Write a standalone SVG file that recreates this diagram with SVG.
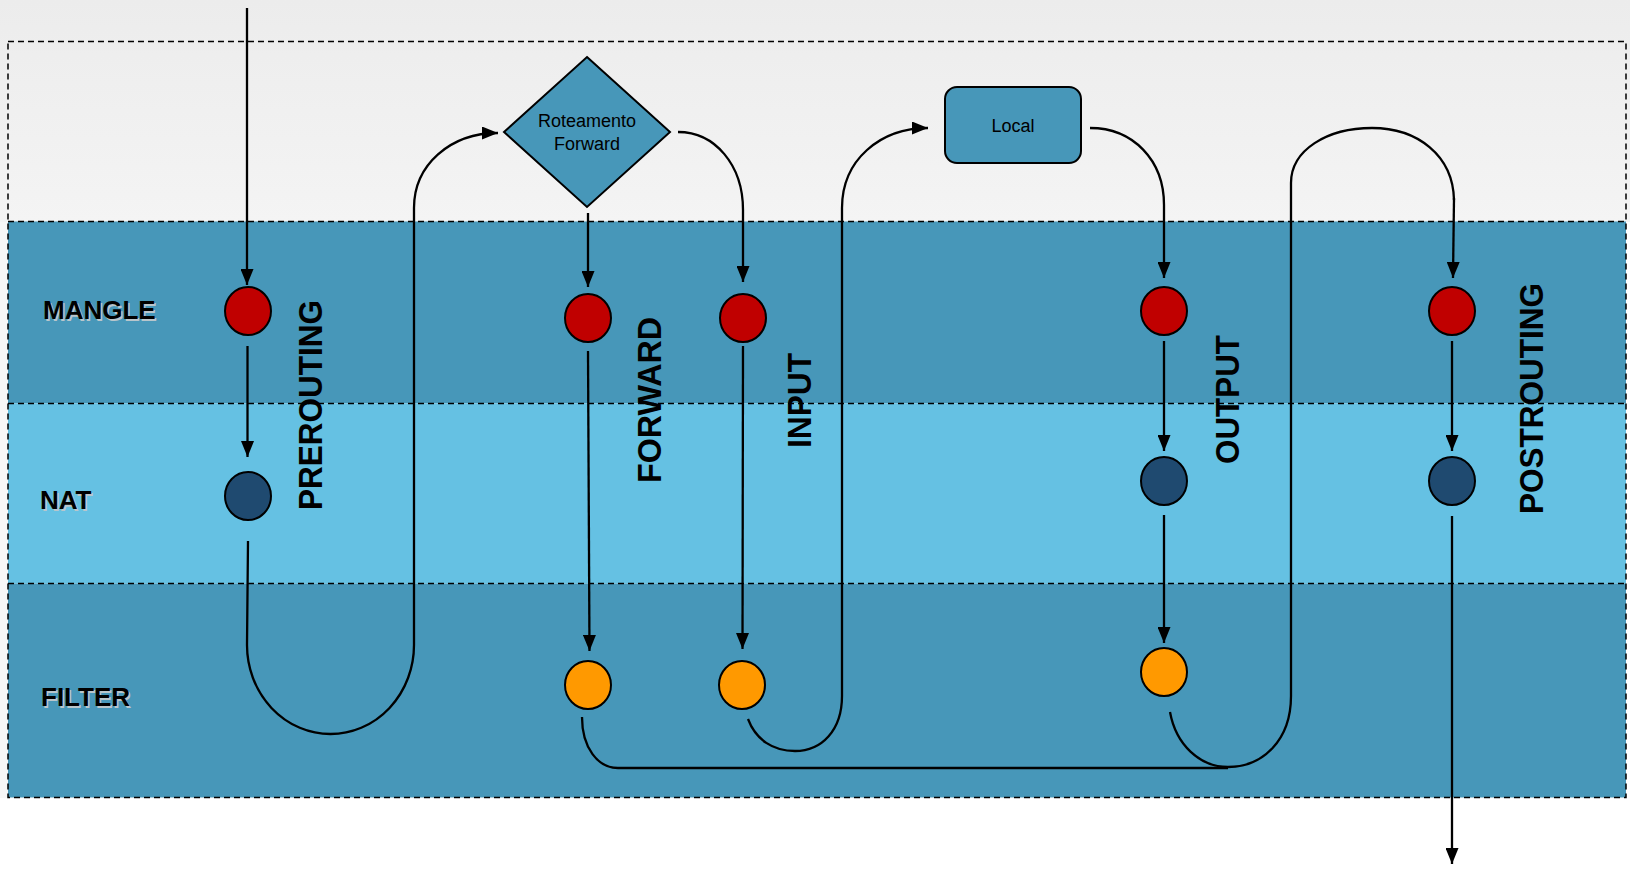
<svg xmlns="http://www.w3.org/2000/svg" width="1630" height="874" viewBox="0 0 1630 874">
<defs>
<linearGradient id="topg" x1="0" y1="0" x2="0" y2="1">
<stop offset="0" stop-color="#ececec"/>
<stop offset="1" stop-color="#f4f4f4"/>
</linearGradient>
<marker id="arr" markerUnits="userSpaceOnUse" markerWidth="17" markerHeight="13" refX="16" refY="6.5" orient="auto">
<path d="M0,0 L16,6.5 L0,13 z" fill="#000"/>
</marker>
<style>
.band-dark{fill:#4797b9}
.band-light{fill:#65c1e3}
.dash{fill:none;stroke:#000;stroke-width:1.5;stroke-dasharray:6 4}
.con{fill:none;stroke:#000;stroke-width:2.3}
.arrow{marker-end:url(#arr)}
.mangle{fill:#c00000;stroke:#000;stroke-width:2}
.nat{fill:#1f4a70;stroke:#000;stroke-width:2}
.filter{fill:#ff9900;stroke:#000;stroke-width:2}
.shape{fill:#4797b9;stroke:#000;stroke-width:2}
.lbl{font-family:"Liberation Sans",Arial,sans-serif;font-weight:bold;font-size:26px;fill:#000}
.lblsh{font-family:"Liberation Sans",Arial,sans-serif;font-weight:bold;font-size:26px;fill:#b9c6cc}
.chain{font-family:"Liberation Sans",Arial,sans-serif;font-weight:bold;font-size:34px;fill:#000}
.ntext{font-family:"Liberation Sans",Arial,sans-serif;font-size:18px;fill:#000;text-anchor:middle}
</style>
</defs>

<g id="background">
<rect x="0" y="0" width="1630" height="874" fill="#ffffff"/>
<rect x="0" y="0" width="1630" height="222" fill="url(#topg)"/>
<rect x="0" y="222" width="8" height="576" fill="#f7f7f7"/>
<rect x="8" y="221.5" width="1618" height="182" class="band-dark"/>
<rect x="8" y="403.5" width="1618" height="180" class="band-light"/>
<rect x="8" y="583.5" width="1618" height="214" class="band-dark"/>
<rect x="8" y="41.5" width="1618" height="756" class="dash"/>
<line x1="8" y1="221.5" x2="1626" y2="221.5" class="dash"/>
<line x1="8" y1="403.5" x2="1626" y2="403.5" class="dash"/>
<line x1="8" y1="583.5" x2="1626" y2="583.5" class="dash"/>
</g>

<g id="table-labels">
<text class="lblsh" x="44.5" y="320.5">MANGLE</text>
<text class="lbl" x="43" y="319">MANGLE</text>
<text class="lblsh" x="41.5" y="510.5">NAT</text>
<text class="lbl" x="40" y="509">NAT</text>
<text class="lblsh" x="42.5" y="707.5">FILTER</text>
<text class="lbl" x="41" y="706">FILTER</text>
</g>

<g id="chain-labels">
<text class="chain" transform="translate(322,510) rotate(-90)" textLength="210" lengthAdjust="spacingAndGlyphs">PREROUTING</text>
<text class="chain" transform="translate(661,483) rotate(-90)" textLength="166" lengthAdjust="spacingAndGlyphs">FORWARD</text>
<text class="chain" transform="translate(811,448) rotate(-90)" textLength="95" lengthAdjust="spacingAndGlyphs">INPUT</text>
<text class="chain" transform="translate(1239,464) rotate(-90)" textLength="129" lengthAdjust="spacingAndGlyphs">OUTPUT</text>
<text class="chain" transform="translate(1543,514) rotate(-90)" textLength="231" lengthAdjust="spacingAndGlyphs">POSTROUTING</text>
</g>

<g id="connectors">
<path class="con arrow" d="M247 8 V285"/>
<path class="con arrow" d="M247.5 346 V457"/>
<path class="con arrow" d="M248 541 L247 645 A83.5 89 0 0 0 414 645 L414 208 C414 165 450 133 498 133"/>
<path class="con arrow" d="M588 213 V287"/>
<path class="con arrow" d="M588 351 L589.5 651"/>
<path class="con arrow" d="M678 132 C715 132 743 165 743 210 V282"/>
<path class="con arrow" d="M743 346 L742.5 649"/>
<path class="con arrow" d="M748 719 C756 740 773 751 795 751 C822 751 842 730 842 696 V208 C842 160 880 128 928 128"/>
<path class="con arrow" d="M1090 128 C1133 128 1164 160 1164 205 V278"/>
<path class="con arrow" d="M1164 341 V451"/>
<path class="con arrow" d="M1164 515 V643"/>
<path class="con" d="M1170 712 C1176 745 1200 767 1228 767 C1263 767 1291 740 1291 696 V183 C1291 150 1327 128 1372 128 C1417 128 1453 155 1454 200"/>
<path class="con arrow" d="M1454 198 L1453 278"/>
<path class="con arrow" d="M1452 341 V451"/>
<path class="con arrow" d="M1452 516 V864"/>
<path class="con" d="M582 717 C582 748 598 768 618 768 H1228"/>
</g>

<g id="node-routing-forward">
<polygon class="shape" points="587,57 670,132 587,207 504,132"/>
<text class="ntext" x="587" y="127">Roteamento</text>
<text class="ntext" x="587" y="150">Forward</text>
</g>

<g id="node-local">
<rect class="shape" x="945" y="87" width="136" height="76" rx="12"/>
<text class="ntext" x="1013" y="132">Local</text>
</g>

<g id="node-prerouting-mangle"><ellipse class="mangle" cx="248" cy="311" rx="23" ry="24"/></g>
<g id="node-prerouting-nat"><ellipse class="nat" cx="248" cy="496" rx="23" ry="24"/></g>
<g id="node-forward-mangle"><ellipse class="mangle" cx="588" cy="318" rx="23" ry="24"/></g>
<g id="node-forward-filter"><ellipse class="filter" cx="588" cy="685" rx="23" ry="24"/></g>
<g id="node-input-mangle"><ellipse class="mangle" cx="743" cy="318" rx="23" ry="24"/></g>
<g id="node-input-filter"><ellipse class="filter" cx="742" cy="685" rx="23" ry="24"/></g>
<g id="node-output-mangle"><ellipse class="mangle" cx="1164" cy="311" rx="23" ry="24"/></g>
<g id="node-output-nat"><ellipse class="nat" cx="1164" cy="481" rx="23" ry="24"/></g>
<g id="node-output-filter"><ellipse class="filter" cx="1164" cy="672" rx="23" ry="24"/></g>
<g id="node-postrouting-mangle"><ellipse class="mangle" cx="1452" cy="311" rx="23" ry="24"/></g>
<g id="node-postrouting-nat"><ellipse class="nat" cx="1452" cy="481" rx="23" ry="24"/></g>
</svg>
